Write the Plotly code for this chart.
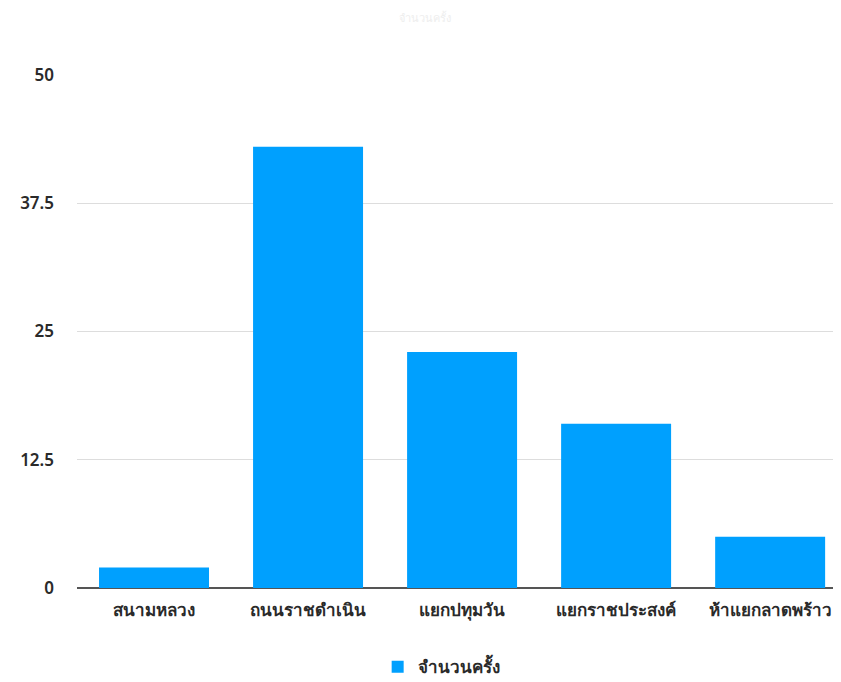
import plotly.graph_objects as go

categories = ["สนามหลวง", "ถนนราชดำเนิน", "แยกปทุมวัน", "แยกราชประสงค์", "ห้าแยกลาดพร้าว"]
values = [2, 43, 23, 16, 5]
series_name = "จำนวนครั้ง"
y_ticks = [0, 12.5, 25, 37.5, 50]
y_tick_labels = ["0", "12.5", "25", "37.5", "50"]

# The page body has an 8px default margin; the figure is sized and offset to compensate.
fig = go.Figure()
fig.add_trace(go.Bar(x=categories, y=values, name=series_name,
                     marker=dict(color="#00a0fe", line=dict(width=0))))

fig.update_layout(
    width=833, height=674,
    margin=dict(l=69, r=0, t=67, b=94),
    paper_bgcolor="white", plot_bgcolor="white",
    bargap=0.286,
    font=dict(family="Noto Sans, DejaVu Sans, sans-serif", color="#2a2a2a", size=16),
    title=dict(text=series_name, x=0.5, xanchor="center", y=0.985, yanchor="middle",
               font=dict(size=11, color="#eeeeee")),
    showlegend=True,
    legend=dict(orientation="h", xref="container", yref="container",
                x=0.52, xanchor="center", y=0.022, yanchor="middle",
                font=dict(size=17, color="#2a2a2a", weight=600)),
    xaxis=dict(range=[-0.5, 4.46], showgrid=False, showline=False, ticks="",
               ticklabelstandoff=10,
               tickfont=dict(size=17, color="#2a2a2a", weight=600)),
    yaxis=dict(range=[0, 50], tickvals=y_ticks, ticktext=y_tick_labels,
               showgrid=True, gridcolor="#dddddd", gridwidth=1,
               zeroline=True, zerolinecolor="#555555", zerolinewidth=2,
               showline=False, ticks="", ticklabelstandoff=22,
               tickfont=dict(size=17, color="#2a2a2a", weight=600)),
)

fig.write_html("out.html")
